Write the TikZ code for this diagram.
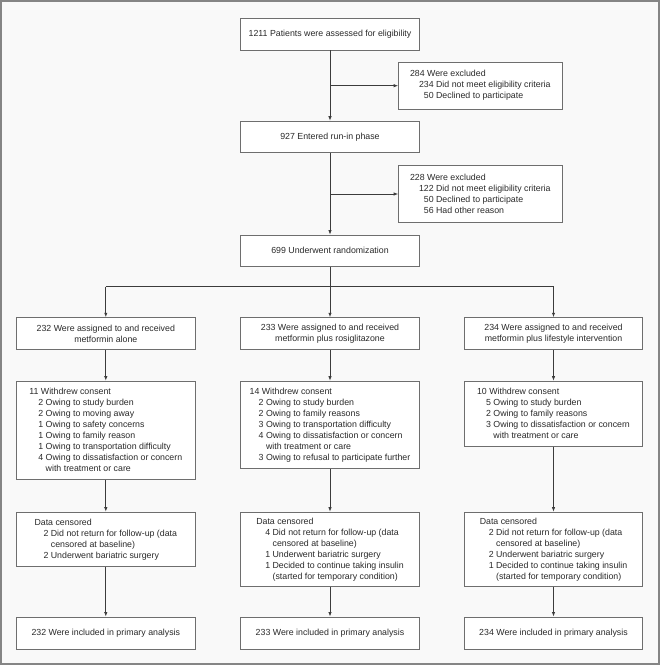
\documentclass[tikz,border=0pt]{standalone}
\usepackage{fontspec}
\setmainfont{Liberation Sans}
\usetikzlibrary{arrows.meta,calc}
\definecolor{bgc}{HTML}{F9F9F9}
\definecolor{framec}{HTML}{858585}
\definecolor{boxc}{HTML}{6E6E6E}
\definecolor{linec}{HTML}{3C3C3C}
\definecolor{textc}{HTML}{2A2A2A}
\tikzset{
  fbox/.style={draw=boxc, fill=white, line width=0.8pt, text=textc,
    font=\fontsize{8.8}{11}\selectfont, inner sep=0pt, minimum width=178.5pt},
  cbox/.style={fbox, align=center},
  lbox/.style={fbox, align=left, anchor=north},
  ebox/.style={fbox, align=left, minimum width=163.4pt},
  conn/.style={draw=linec, line width=0.8pt},
  arr/.style={conn, -{Latex[length=4.5pt,width=3.4pt]}}
}
\newcommand{\ind}{\hspace*{9pt}}
\begin{document}
\begin{tikzpicture}[x=1pt,y=-1pt]
\useasboundingbox (0,0) rectangle (660,666);
\draw[draw=framec, fill=bgc, line width=1.8pt] (1,1) rectangle (659,664);

\node[cbox, minimum width=179.6pt, minimum height=31.7pt] (top) at (330,34.2) {1211 Patients were assessed for eligibility};
\node[ebox, minimum height=46.7pt] (ex1) at (480.3,85.7) {284 Were excluded\\ \ind 234 Did not meet eligibility criteria\\ \ind\phantom{2}50 Declined to participate};
\node[cbox, minimum height=31.7pt] (run) at (330,137) {927 Entered run-in phase};
\node[ebox, minimum height=57.3pt] (ex2) at (480.3,193.7) {228 Were excluded\\ \ind 122 Did not meet eligibility criteria\\ \ind\phantom{1}50 Declined to participate\\ \ind\phantom{1}56 Had other reason};
\node[cbox, minimum height=31.3pt] (rand) at (330,250.7) {699 Underwent randomization};

\node[cbox, minimum height=31.7pt] (a1) at (105.8,333.5) {232 Were assigned to and received\\ metformin alone};
\node[cbox, minimum height=31.7pt] (a2) at (330,333.5) {233 Were assigned to and received\\ metformin plus rosiglitazone};
\node[cbox, minimum height=31.7pt] (a3) at (553.5,333.5) {234 Were assigned to and received\\ metformin plus lifestyle intervention};

\node[lbox, minimum height=98.3pt] (w1) at (105.8,380.7) {11 Withdrew consent\\
 \ind 2 Owing to study burden\\
 \ind 2 Owing to moving away\\
 \ind 1 Owing to safety concerns\\
 \ind 1 Owing to family reason\\
 \ind 1 Owing to transportation difficulty\\
 \ind 4 Owing to dissatisfaction or concern\\
 \ind\phantom{4}\ with treatment or care};
\node[lbox, minimum height=87.3pt] (w2) at (330,380.7) {14 Withdrew consent\\
 \ind 2 Owing to study burden\\
 \ind 2 Owing to family reasons\\
 \ind 3 Owing to transportation difficulty\\
 \ind 4 Owing to dissatisfaction or concern\\
 \ind\phantom{4}\ with treatment or care\\
 \ind 3 Owing to refusal to participate further};
\node[lbox, minimum height=65pt] (w3) at (553.5,380.7) {10 Withdrew consent\\
 \ind 5 Owing to study burden\\
 \ind 2 Owing to family reasons\\
 \ind 3 Owing to dissatisfaction or concern\\
 \ind\phantom{3}\ with treatment or care};

\node[lbox, minimum height=54.3pt] (d1) at (105.8,511.7) {Data censored\\
 \ind 2 Did not return for follow-up (data\\
 \ind\phantom{2}\ censored at baseline)\\
 \ind 2 Underwent bariatric surgery};
\node[lbox, minimum height=74.3pt] (d2) at (330,511.7) {Data censored\\
 \ind 4 Did not return for follow-up (data\\
 \ind\phantom{4}\ censored at baseline)\\
 \ind 1 Underwent bariatric surgery\\
 \ind 1 Decided to continue taking insulin\\
 \ind\phantom{1}\ (started for temporary condition)};
\node[lbox, minimum height=74.3pt] (d3) at (553.5,511.7) {Data censored\\
 \ind 2 Did not return for follow-up (data\\
 \ind\phantom{2}\ censored at baseline)\\
 \ind 2 Underwent bariatric surgery\\
 \ind 1 Decided to continue taking insulin\\
 \ind\phantom{1}\ (started for temporary condition)};

\node[cbox, minimum height=32pt] (i1) at (105.8,633) {232 Were included in primary analysis};
\node[cbox, minimum height=32pt] (i2) at (330,633) {233 Were included in primary analysis};
\node[cbox, minimum height=32pt] (i3) at (553.5,633) {234 Were included in primary analysis};

\coordinate (b1) at (330,85.7);
\coordinate (b2) at (330,194);
\coordinate (split) at (330,286.7);

\draw[arr] (top) -- (run);
\draw[arr] (b1) -- (b1 -| ex1.west);
\draw[arr] (run) -- (rand);
\draw[arr] (b2) -- (b2 -| ex2.west);
\draw[arr] (rand) -- (a2);
\draw[conn] (split -| a1) -- (split -| a3);
\draw[arr] (split -| a1) -- (a1);
\draw[arr] (split -| a3) -- (a3);
\foreach \c in {1,2,3}{
  \draw[arr] (a\c) -- (w\c);
  \draw[arr] (w\c) -- (d\c);
  \draw[arr] (d\c) -- (i\c);
}
\end{tikzpicture}
\end{document}
